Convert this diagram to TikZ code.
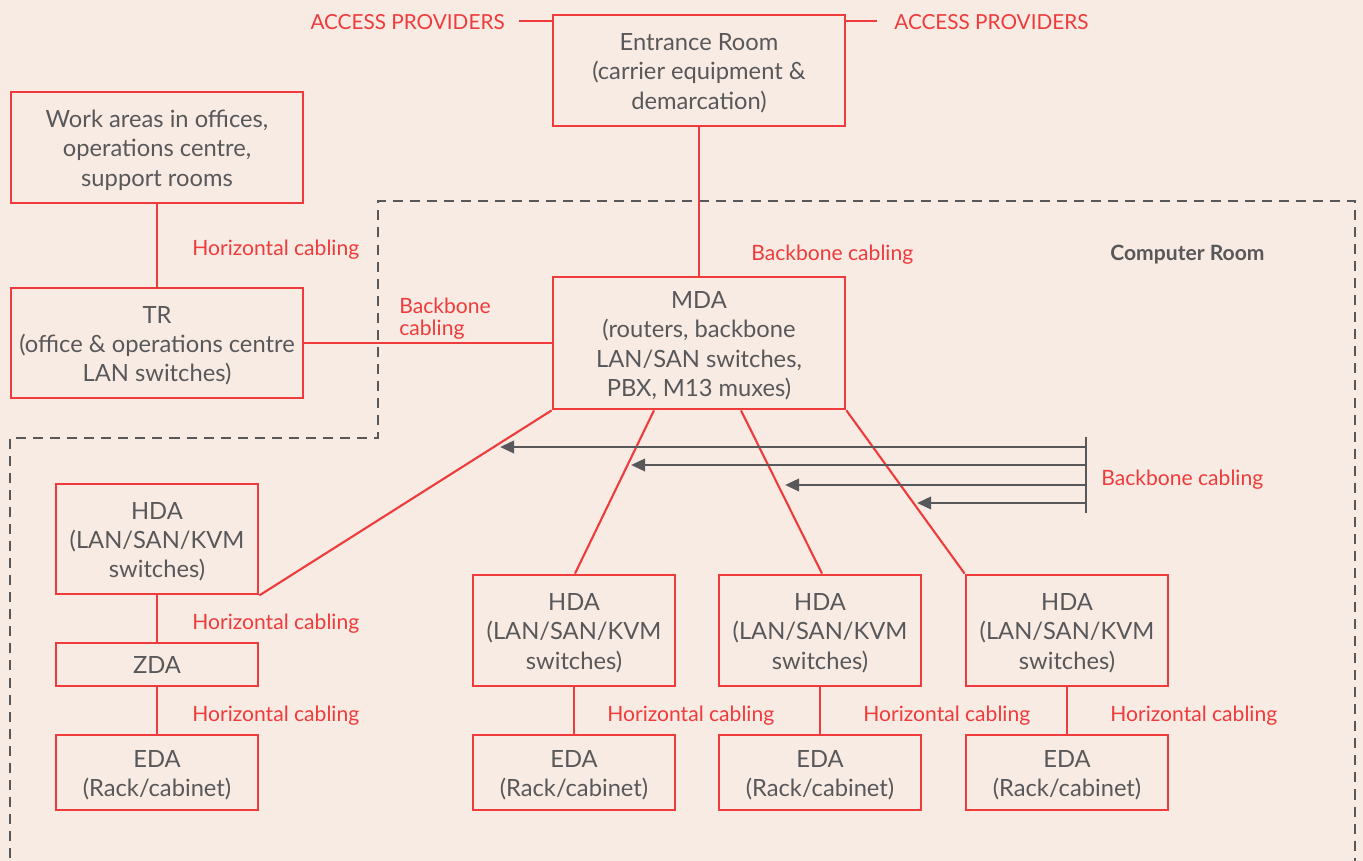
\documentclass[tikz,border=0pt]{standalone}
\usepackage{fontspec}
\setmainfont{Lato}
\usetikzlibrary{arrows.meta,calc}
\definecolor{bgcol}{HTML}{F8EBE3}
\definecolor{redcol}{HTML}{EF3B3B}
\definecolor{graycol}{HTML}{58585A}
% centred stack of lines, ink lowered slightly so caps sit in the middle
\newcommand{\stacklines}[1]{\raisebox{-2pt}[\height][\depth]{\begin{tabular}{@{}c@{}}#1\end{tabular}}}
\begin{document}
\begin{tikzpicture}[x=0.02cm,y=-0.02cm,
  box/.style={draw=redcol, line width=1.6pt, fill=bgcol, text=graycol,
    font=\fontsize{13.5}{16.7}\selectfont, inner sep=0pt},
  wide/.style={box, minimum width=5.84cm},
  narrow/.style={box, minimum width=4.04cm},
  link/.style={draw=redcol, line width=1.2pt},
  lbl/.style={text=redcol, font=\fontsize{12}{12.5}\selectfont, anchor=base west, inner sep=0pt},
  room/.style={draw=graycol, line width=1.6pt, dash pattern=on 5.7pt off 4pt},
  feed/.style={draw=graycol, line width=1.6pt, -{Triangle[length=8pt,width=7pt]}}]
  \fill[bgcol] (0,0) rectangle (1363,861);
  \useasboundingbox (0,0) rectangle (1363,861);

  % computer room outline
  \draw[room] (10,875) -- (10,438) -- (378,438) -- (378,201) -- (1355,201) -- (1355,875);

  % boxes
  \node[wide, minimum height=2.22cm] (er) at (699,70.5) {\stacklines{Entrance Room\\(carrier equipment \&\\demarcation)}};
  \node[wide, minimum height=2.22cm] (wa) at (157,147.5) {\stacklines{Work areas in offices,\\operations centre,\\support rooms}};
  \node[wide, minimum height=2.2cm] (tr) at (157,343) {\stacklines{TR\\(office \& operations centre\\LAN switches)}};
  \node[wide, minimum height=2.64cm] (mda) at (699,343) {\stacklines{MDA\\(routers, backbone\\LAN/SAN switches,\\PBX, M13 muxes)}};
  \node[narrow, minimum height=2.2cm] (hda1) at (157,539) {\stacklines{HDA\\(LAN/SAN/KVM\\switches)}};
  \node[narrow, minimum height=0.86cm] (zda) at (157,664.5) {\stacklines{ZDA}};
  \node[narrow, minimum height=1.5cm] (eda1) at (157,772.5) {\stacklines{EDA\\(Rack/cabinet)}};
  \node[narrow, minimum height=2.22cm] (hda2) at (574,630.5) {\stacklines{HDA\\(LAN/SAN/KVM\\switches)}};
  \node[narrow, minimum height=1.5cm] (eda2) at (574,772.5) {\stacklines{EDA\\(Rack/cabinet)}};
  \node[narrow, minimum height=2.22cm] (hda3) at (820,630.5) {\stacklines{HDA\\(LAN/SAN/KVM\\switches)}};
  \node[narrow, minimum height=1.5cm] (eda3) at (820,772.5) {\stacklines{EDA\\(Rack/cabinet)}};
  \node[narrow, minimum height=2.22cm] (hda4) at (1067,630.5) {\stacklines{HDA\\(LAN/SAN/KVM\\switches)}};
  \node[narrow, minimum height=1.5cm] (eda4) at (1067,772.5) {\stacklines{EDA\\(Rack/cabinet)}};

  % access provider feeds
  \coordinate (apl) at (519,21);
  \coordinate (apr) at (877,21);
  \draw[link] (apl) -- (er.west |- apl);
  \draw[link] (er.east |- apr) -- (apr);
  \node[lbl, anchor=base east, font=\fontsize{11.8}{12.5}\selectfont] (apltxt) at (505,30) {ACCESS PROVIDERS};
  \node[lbl, font=\fontsize{11.8}{12.5}\selectfont] (aprtxt) at (894,30) {ACCESS PROVIDERS};

  % cabling
  \draw[link] (er) -- (mda);
  \draw[link] (wa) -- (tr);
  \draw[link] (tr) -- (mda);
  \draw[link] (mda.south west) -- (hda1.south east);
  \draw[link] ($(mda.south)+(-45,0)$) -- ($(hda2.north)+(1,0)$);
  \draw[link] ($(mda.south)+(42,0)$) -- ($(hda3.north)+(2,0)$);
  \draw[link] (mda.south east) -- (hda4.north west);
  \draw[link] (hda1) -- (zda);
  \draw[link] (zda) -- (eda1);
  \draw[link] (hda2) -- (eda2);
  \draw[link] (hda3) -- (eda3);
  \draw[link] (hda4) -- (eda4);

  % backbone feeds into the computer room
  \coordinate (bbtop) at (1086,437);
  \coordinate (bbbot) at (1086,513);
  \draw[graycol, line width=1.6pt] (bbtop) -- (bbbot);
  \coordinate (f1) at (1086,447); \coordinate (t1) at (500,447);
  \coordinate (f2) at (1086,465); \coordinate (t2) at (631,465);
  \coordinate (f3) at (1086,485); \coordinate (t3) at (785,485);
  \coordinate (f4) at (1086,503); \coordinate (t4) at (917,503);
  \draw[feed] (f1) -- (t1);
  \draw[feed] (f2) -- (t2);
  \draw[feed] (f3) -- (t3);
  \draw[feed] (f4) -- (t4);

  % labels
  \node[lbl] (l1) at (192,256) {Horizontal cabling};
  \node[lbl] (l2) at (751,261) {Backbone cabling};
  \node[lbl, align=left, anchor=north west] (l3) at (399,298) {Backbone\\cabling};
  \node[lbl, text=graycol, font=\fontsize{12}{12.5}\selectfont\bfseries] (cr) at (1110,261) {Computer Room};
  \node[lbl] (l4) at (1101,486) {Backbone cabling};
  \node[lbl] (l5) at (192,629) {Horizontal cabling};
  \node[lbl] (l6) at (192,721) {Horizontal cabling};
  \node[lbl] (l7) at (607,721) {Horizontal cabling};
  \node[lbl] (l8) at (863,721) {Horizontal cabling};
  \node[lbl] (l9) at (1110,721) {Horizontal cabling};
\end{tikzpicture}
\end{document}
